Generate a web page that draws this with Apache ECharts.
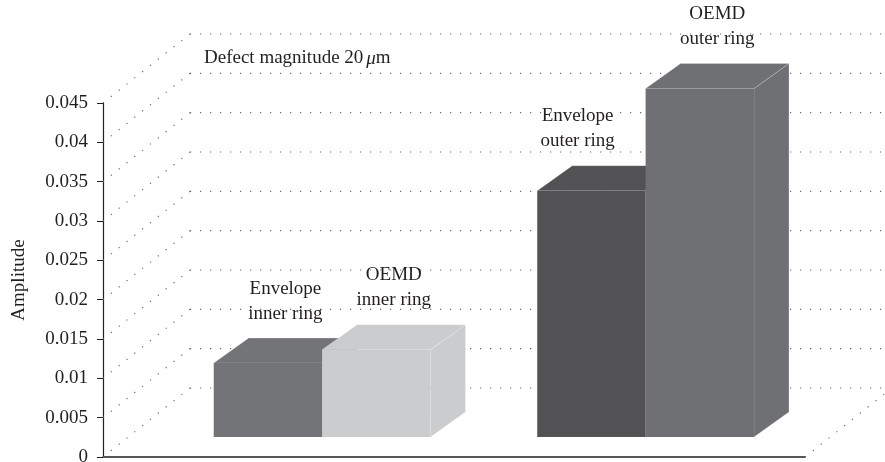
<!DOCTYPE html>
<html><head><meta charset="utf-8">
<script src="https://cdn.jsdelivr.net/npm/echarts@6/dist/echarts.min.js"></script>
<style>html,body{margin:0;padding:0;background:#fff}#c{width:885px;height:462px}</style>
</head><body><div id="c"></div>
<script>
// ---- data ----
const categories = ['inner ring', 'outer ring'];
const seriesNames = ['Envelope', 'OEMD'];
const envelopeValues = [0.0094, 0.0313];
const oemdValues = [0.0111, 0.0443];
const yTicks = [0, 0.005, 0.01, 0.015, 0.02, 0.025, 0.03, 0.035, 0.04, 0.045];
const yName = 'Amplitude';

// ---- styles / layout ----
const envelopeColors = ['#737478', '#525254'];
const oemdColors = ['#cbcccd', '#6f7074'];
const FONT = 'Liberation Serif';
const FS = 19;
const TXT = '#231f20';
const WALL = [87, -69];       // depth of the back wall (px)
const BAR_PLANE = [25, -20];  // bars stand this far behind the front plane (px)
const BOX = [35, -25];        // bar depth (px)
const HALF = 0.335;           // bar width in x-units
const X_MIN = -0.6, X_MAX = 1.57;

const chart = echarts.init(document.getElementById('c'), null, {renderer: 'canvas'});

function boxEls(api, xl, xr, v, fill) {
  const bl = api.coord([xl, 0]), tr = api.coord([xr, v]);
  const x0 = bl[0] + BAR_PLANE[0], x1 = tr[0] + BAR_PLANE[0];
  const yb = bl[1] + BAR_PLANE[1], yt = tr[1] + BAR_PLANE[1];
  const dx = BOX[0], dy = BOX[1];
  const els = [
    {type: 'polygon', shape: {points: [[x1, yb], [x1 + dx, yb + dy], [x1 + dx, yt + dy], [x1, yt]]},
     style: {fill: fill, stroke: 'rgba(255,255,255,0.25)', lineWidth: 0.8}},
    {type: 'polygon', shape: {points: [[x0, yt], [x0 + dx, yt + dy], [x1 + dx, yt + dy], [x1, yt]]},
     style: {fill: fill, stroke: 'rgba(255,255,255,0.25)', lineWidth: 0.8}},
    {type: 'rect', shape: {x: x0, y: yt, width: x1 - x0, height: yb - yt}, style: {fill: fill}}
  ];
  return {els, x0, x1, yt, yb};
}

function renderBars(params, api) {
  const i = api.value(0);
  const env = api.value(1), oe = api.value(2);
  const a = boxEls(api, i - HALF, i, env, envelopeColors[i]);
  const b = boxEls(api, i, i + HALF, oe, oemdColors[i]);
  const children = a.els.concat(b.els);
  const LH = 25, GAP = 12, HALFW = 43;
  let ax = (a.x0 + a.x1) / 2 + BOX[0] / 2;
  const aBottom = a.yt + BOX[1] - GAP;
  if (b.yt < aBottom && ax + HALFW > b.x0 - 25) ax = b.x0 - 25 - HALFW;
  children.push({type: 'text', x: ax, y: aBottom,
    style: {text: seriesNames[0] + '\n' + categories[i], align: 'center', verticalAlign: 'bottom',
      font: FS + 'px "' + FONT + '"', lineHeight: LH, fill: TXT}});
  const bx = (b.x0 + b.x1) / 2 + BOX[0] / 2;
  children.push({type: 'text', x: bx, y: b.yt + BOX[1] - GAP,
    style: {text: seriesNames[1] + '\n' + categories[i], align: 'center', verticalAlign: 'bottom',
      font: FS + 'px "' + FONT + '"', lineHeight: LH, fill: TXT}});
  return {type: 'group', children};
}

function renderWall(params, api) {
  const v = api.value(1);
  const cs = params.coordSys;
  const p = api.coord([X_MIN, v]);
  const q = [p[0] + WALL[0], p[1] + WALL[1]];
  const right = cs.x + cs.width + WALL[0];
  const dot = {stroke: '#6a6a6a', lineWidth: 1.2, lineDash: [1.2, 8.8]};
  const children = [
    {type: 'line', shape: {x1: p[0], y1: p[1], x2: q[0], y2: q[1]}, style: dot},
    {type: 'line', shape: {x1: q[0], y1: q[1], x2: right, y2: q[1]}, style: dot}
  ];
  if (v === 0) {
    const r = [cs.x + cs.width, p[1]];
    children.push({type: 'line', shape: {x1: r[0], y1: r[1], x2: r[0] + WALL[0], y2: r[1] + WALL[1]}, style: dot});
  }
  return {type: 'group', children};
}

chart.setOption({
  animation: false,
  backgroundColor: '#fff',
  title: {
    text: '{a|Defect magnitude 20}{i|μ}{a|m}',
    left: 199, top: 44,
    textStyle: {fontWeight: 'normal', rich: {
      a: {fontFamily: FONT, fontSize: FS, color: TXT, fontWeight: 'normal'},
      i: {fontFamily: FONT, fontSize: FS, color: TXT, fontStyle: 'italic', fontWeight: 'normal', padding: [0, 0, 0, 3]}
    }}
  },
  grid: {left: 103, right: 80, top: 103, bottom: 5, containLabel: false, outerBoundsMode: 'none'},
  xAxis: {
    type: 'value', min: X_MIN, max: X_MAX,
    axisLine: {show: true, onZero: false, lineStyle: {color: '#231f20', width: 1.5}},
    axisTick: {show: false}, axisLabel: {show: false}, splitLine: {show: false}
  },
  yAxis: {
    type: 'value', min: 0, max: 0.045, interval: 0.005,
    name: yName, nameLocation: 'middle', nameGap: 74,
    nameTextStyle: {fontFamily: FONT, fontSize: FS, color: TXT},
    axisLine: {show: true, onZero: false, lineStyle: {color: '#231f20', width: 1.2}},
    axisTick: {show: true, length: 6, lineStyle: {color: '#231f20'}},
    axisLabel: {fontFamily: FONT, fontSize: FS, color: TXT, margin: 15},
    splitLine: {show: false}
  },
  series: [
    {type: 'custom', renderItem: renderWall, clip: false, silent: true, z: 1,
     data: yTicks.map(v => [X_MIN, v])},
    {type: 'custom', renderItem: renderBars, clip: false, z: 2,
     data: categories.map((c, i) => [i, envelopeValues[i], oemdValues[i]])}
  ]
});
</script></body></html>
